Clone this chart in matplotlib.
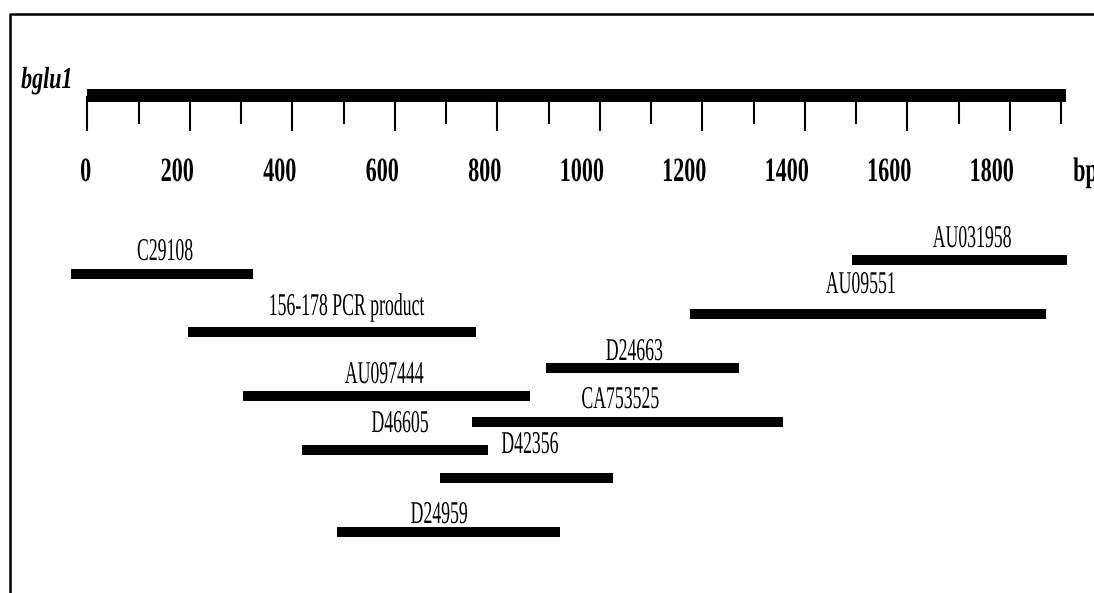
import matplotlib
matplotlib.use('Agg')
import matplotlib.pyplot as plt
from matplotlib.patheffects import AbstractPathEffect
from matplotlib.transforms import Affine2D

# gene map data (bp)
gene_name = 'bglu1'
gene_length = 1910
tick_step = 100
label_step = 200
tick_labels = [str(v) for v in range(0, 1801, label_step)]

clone_names = ['C29108', '156-178 PCR product', 'AU097444', 'D46605', 'D42356',
               'D24959', 'D24663', 'CA753525', 'AU09551', 'AU031958']
clone_start = [-32, 196, 303, 419, 688, 487, 895, 750, 1176, 1492]
clone_end = [323, 758, 863, 781, 1025, 922, 1271, 1357, 1870, 1911]

# layout (rows in pixel units from the top, label centres in bp)
row_y = [274, 332, 396, 450, 478, 532, 368, 422, 313.5, 260]
label_x = [151, 504, 579, 610, 863, 686, 1067, 1039, 1509, 1726]
label_base = [260, 315, 383, 432, 453, 523, 360, 408, 293, 247]


class Squeeze(AbstractPathEffect):
    # narrow the glyphs horizontally, the original picture is squashed
    def __init__(self, sx, anchor='center'):
        super().__init__()
        self.sx = sx
        self.anchor = anchor

    def draw_path(self, renderer, gc, tpath, affine, rgbFace=None):
        ext = tpath.get_extents()
        if self.anchor == 'left':
            cx = ext.x0
        elif self.anchor == 'right':
            cx = ext.x1
        else:
            cx = (ext.x0 + ext.x1) / 2.0
        sq = Affine2D().translate(-cx, 0).scale(self.sx, 1).translate(cx, 0)
        renderer.draw_path(gc, tpath, sq + affine, rgbFace)


def main():
    plt.rcParams['font.family'] = ['Liberation Serif', 'DejaVu Serif']

    fig = plt.figure(figsize=(10.94, 5.93), dpi=100)
    ax = fig.add_axes([0, 0, 1, 1])
    px = 0.5125  # pixels per bp
    x0 = 87.5
    ax.set_xlim(-x0 / px, (1094 - x0) / px)
    ax.set_ylim(593, 0)
    ax.axis('off')

    # frame (top and left only)
    ax.plot([10 / 1094, 10 / 1094, 1], [0, 1 - 14 / 593, 1 - 14 / 593],
            transform=ax.transAxes, color='black', lw=1.8, clip_on=False)

    # gene bar and ruler
    ax.barh(95.5, gene_length, left=0, height=13, color='black')
    for v in range(0, 1901, tick_step):
        bottom = 131 if v % label_step == 0 else 124
        ax.vlines(v, 96, bottom, color='black', lw=1.5)
    for lab in tick_labels:
        ax.text(int(lab) + 4 / px, 181, lab, ha='right', va='baseline', fontsize=24.5,
                fontweight='bold', path_effects=[Squeeze(0.65, 'right')])
    ax.text((1073 - x0) / px, 181, 'bp', ha='left', va='baseline', fontsize=24.5,
            fontweight='bold', path_effects=[Squeeze(0.65, 'left')])
    ax.text((21 - x0) / px, 88, gene_name, ha='left', va='baseline', fontsize=22,
            fontweight='bold', fontstyle='italic', path_effects=[Squeeze(0.72, 'left')])

    # clones
    widths = [e - s for s, e in zip(clone_start, clone_end)]
    ax.barh(row_y, widths, left=clone_start, height=10, color='black')
    for name, lx, ly in zip(clone_names, label_x, label_base):
        ax.text(lx, ly, name, ha='center', va='baseline', fontsize=22.8,
                path_effects=[Squeeze(0.56)])

    fig.savefig('out.png', dpi=100)


if __name__ == '__main__':
    main()
